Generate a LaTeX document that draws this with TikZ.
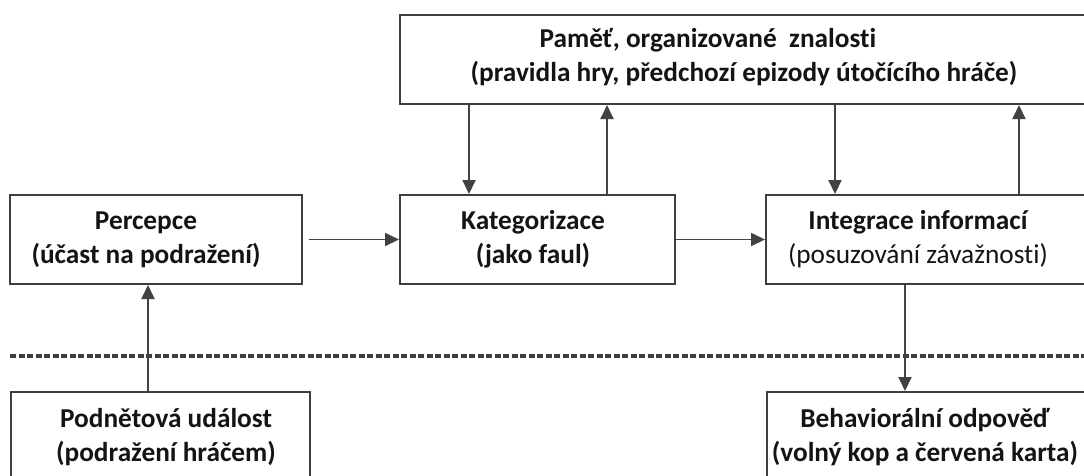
\documentclass[tikz,border=0pt]{standalone}
\usepackage{fontspec}
\setmainfont[Ligatures=NoCommon]{Carlito}
\usetikzlibrary{arrows.meta}
\definecolor{boxgray}{RGB}{62,62,62}
\definecolor{arrgray}{RGB}{66,66,66}
\definecolor{txtc}{RGB}{20,20,20}
\begin{document}
\begin{tikzpicture}[x=1pt,y=-1pt,
  box/.style={draw=boxgray, line width=2pt, rectangle, inner sep=0pt},
  txt/.style={font=\fontsize{27.3}{34}\selectfont\bfseries, text=txtc, align=center, inner sep=0pt},
  arr/.style={draw=arrgray, line width=1.9pt, -{Triangle[length=14pt,width=13pt]}},
  sepline/.style={draw=boxgray, line width=3.5pt, dash pattern=on 6pt off 2.5pt}]
\path[use as bounding box, clip] (0,0) rectangle (1084,475);
\fill[white] (0,0) rectangle (1084,475);
% boxes
\node[box, minimum width=695pt, minimum height=89pt] (mem) at (747.5,59.5) {};
\node[box, minimum width=292pt, minimum height=89pt] (perc) at (156,239.5) {};
\node[box, minimum width=275pt, minimum height=89pt] (kat) at (537.5,239.5) {};
\node[box, minimum width=329pt, minimum height=89pt] (integ) at (930.5,239.5) {};
\node[box, minimum width=299pt, minimum height=108pt] (podn) at (160.5,446) {};
\node[box, minimum width=328pt, minimum height=108pt] (behav) at (931,446) {};
% texts
\node[txt] (memA) at (708,40) {Paměť, organizované~ znalosti};
\node[txt] (memB) at (744,74) {(pravidla hry, předchozí epizody útočícího hráče)};
\node[txt] (percT) at (146,240) {Percepce\\(účast na podražení)};
\node[txt] (katT) at (533,239) {Kategorizace\\(jako faul)};
\node[txt] (integT) at (918,239) {Integrace informací\\\textmd{(posuzování závažnosti)}};
\node[txt] (podnT) at (166,437) {Podnětová událost\\(podražení hráčem)};
\node[txt] (behavT) at (925,437) {Behaviorální odpověď\\(volný kop a červená karta)};
% x positions of vertical connectors
\coordinate (xa) at (469,0);
\coordinate (xb) at (607,0);
\coordinate (xc) at (835,0);
\coordinate (xd) at (1019,0);
\coordinate (xe) at (905,0);
\coordinate (xf) at (148,0);
% separator
\coordinate (dl) at (10,356);
\coordinate (dr) at (1090,356);
\draw[sepline] (dl) -- (dr);
% connectors
\draw[arr] ([xshift=6pt]perc.east) -- (kat.west);
\draw[arr] (kat.east) -- (integ.west);
\draw[arr] (mem.south -| xa) -- (kat.north -| xa);
\draw[arr] (kat.north -| xb) -- (mem.south -| xb);
\draw[arr] (mem.south -| xc) -- (integ.north -| xc);
\draw[arr] (integ.north -| xd) -- (mem.south -| xd);
\draw[arr] (integ.south -| xe) -- (behav.north -| xe);
\draw[arr] (podn.north -| xf) -- (perc.south -| xf);
\end{tikzpicture}
\end{document}
